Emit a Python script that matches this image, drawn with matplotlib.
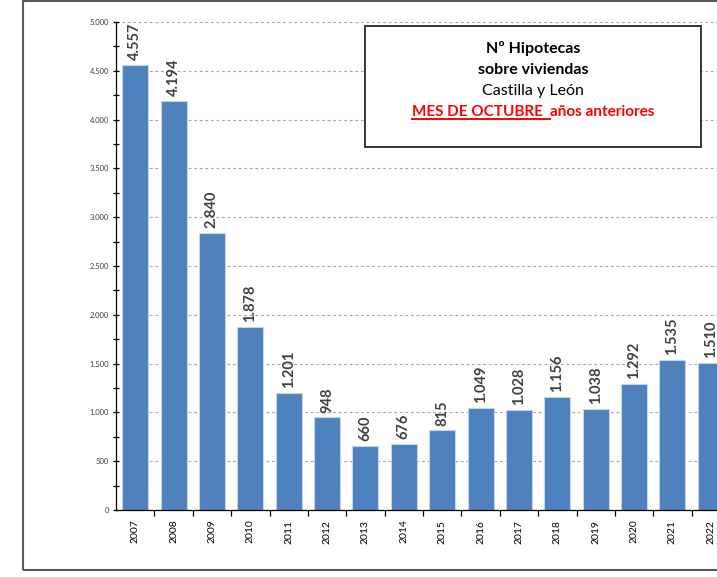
"""Hipotecas sobre viviendas en Castilla y León, mes de octubre 2007-2022."""

import matplotlib

matplotlib.use("Agg")
import matplotlib.pyplot as plt  # noqa: E402
from matplotlib.patches import Rectangle  # noqa: E402
from matplotlib.lines import Line2D  # noqa: E402
from matplotlib.ticker import MultipleLocator, FuncFormatter  # noqa: E402

plt.rcParams["font.family"] = ["Lato", "DejaVu Sans"]

years = ["2007", "2008", "2009", "2010", "2011", "2012", "2013", "2014",
         "2015", "2016", "2017", "2018", "2019", "2020", "2021", "2022"]
hipotecas = [4557, 4194, 2840, 1878, 1201, 948, 660, 676,
             815, 1049, 1028, 1156, 1038, 1292, 1535, 1510]

BAR_COLOR = "#4F81BD"
TEXT_GREY = "#404040"
W, H = 717, 577


def miles(v):
    return f"{int(v):,}".replace(",", ".")


def px(x, y_top):
    """pixel (from top-left) -> figure fraction"""
    return x / W, 1 - y_top / H


fig = plt.figure(figsize=(W / 100, H / 100), dpi=100)

# outer chart frame (runs off the right edge like the original)
fig.patches.append(Rectangle(px(23, 570), 760 / W, 569 / H, transform=fig.transFigure,
                             fill=False, lw=1.5, ec="#595959"))

ax = fig.add_axes([116 / W, 67 / H, 614 / W, 488 / H])
xs = list(range(len(years)))
bars = ax.bar(xs, hipotecas, width=0.68, color=BAR_COLOR, edgecolor="#c6d6ea",
              linewidth=0.8, zorder=2)
for b, v in zip(bars, hipotecas):
    ax.annotate(miles(v), (b.get_x() + b.get_width() / 2, v), xytext=(0, 3.5),
                textcoords="offset points", rotation=90, ha="center", va="bottom",
                fontsize=10.5, fontweight="bold", color=TEXT_GREY)

ax.set_xlim(-0.5, len(years) - 0.5)
ax.set_ylim(0, 5000)
ax.set_axisbelow(True)
ax.yaxis.grid(True, color="#A6A6A6", ls=(0, (2.5, 2.5)), lw=0.8)
for s in ("top", "right"):
    ax.spines[s].set_visible(False)
ax.spines["left"].set_color("black")
ax.spines["bottom"].set_color("black")
ax.spines["left"].set_linewidth(0.9)
ax.spines["bottom"].set_linewidth(0.9)

ax.yaxis.set_major_locator(MultipleLocator(500))
ax.yaxis.set_minor_locator(MultipleLocator(250))
ax.yaxis.set_major_formatter(FuncFormatter(lambda v, _: miles(v)))
ax.tick_params(axis="y", which="both", direction="inout", length=4, width=0.9,
               labelsize=5.5, labelcolor=TEXT_GREY, pad=3)

ax.set_xticks(xs)
ax.set_xticklabels(years, rotation=90, fontsize=7.5, color="black")
ax.set_xticks([i + 0.5 for i in xs], minor=True)
ax.tick_params(axis="x", which="major", length=0, pad=7)
ax.tick_params(axis="x", which="minor", direction="out", length=4, width=0.9)

# title box
fig.patches.append(Rectangle(px(365, 147), 336 / W, 121 / H, transform=fig.transFigure,
                             fill=True, fc="white", lw=1.3, ec="#262626", zorder=5))
cx = 533
for y_top, txt, weight in [(49, "Nº Hipotecas", "bold"), (70, "sobre viviendas", "bold"),
                           (91, "Castilla y León", "normal")]:
    fig.text(*px(cx, y_top), txt, ha="center", va="center", fontsize=11.5,
             fontweight=weight, color="black", zorder=6)

base = 116
t1 = fig.text(0, 0, "MES DE OCTUBRE  ", fontsize=11, fontweight="bold", color="red",
              va="baseline", ha="left", zorder=6)
t2 = fig.text(0, 0, "años anteriores", fontsize=11, fontweight="bold", color="red",
              va="baseline", ha="left", zorder=6)
renderer = fig.canvas.get_renderer()
w1 = t1.get_window_extent(renderer).width
w2 = t2.get_window_extent(renderer).width
x0 = cx - (w1 + w2) / 2
t1.set_position(px(x0, base))
t2.set_position(px(x0 + w1, base))
fig.lines.append(Line2D([x0 / W, (x0 + w1) / W], [1 - (base + 3) / H] * 2,
                        transform=fig.transFigure, color="red", lw=1.4, zorder=6))

fig.savefig("out.png", dpi=100)
